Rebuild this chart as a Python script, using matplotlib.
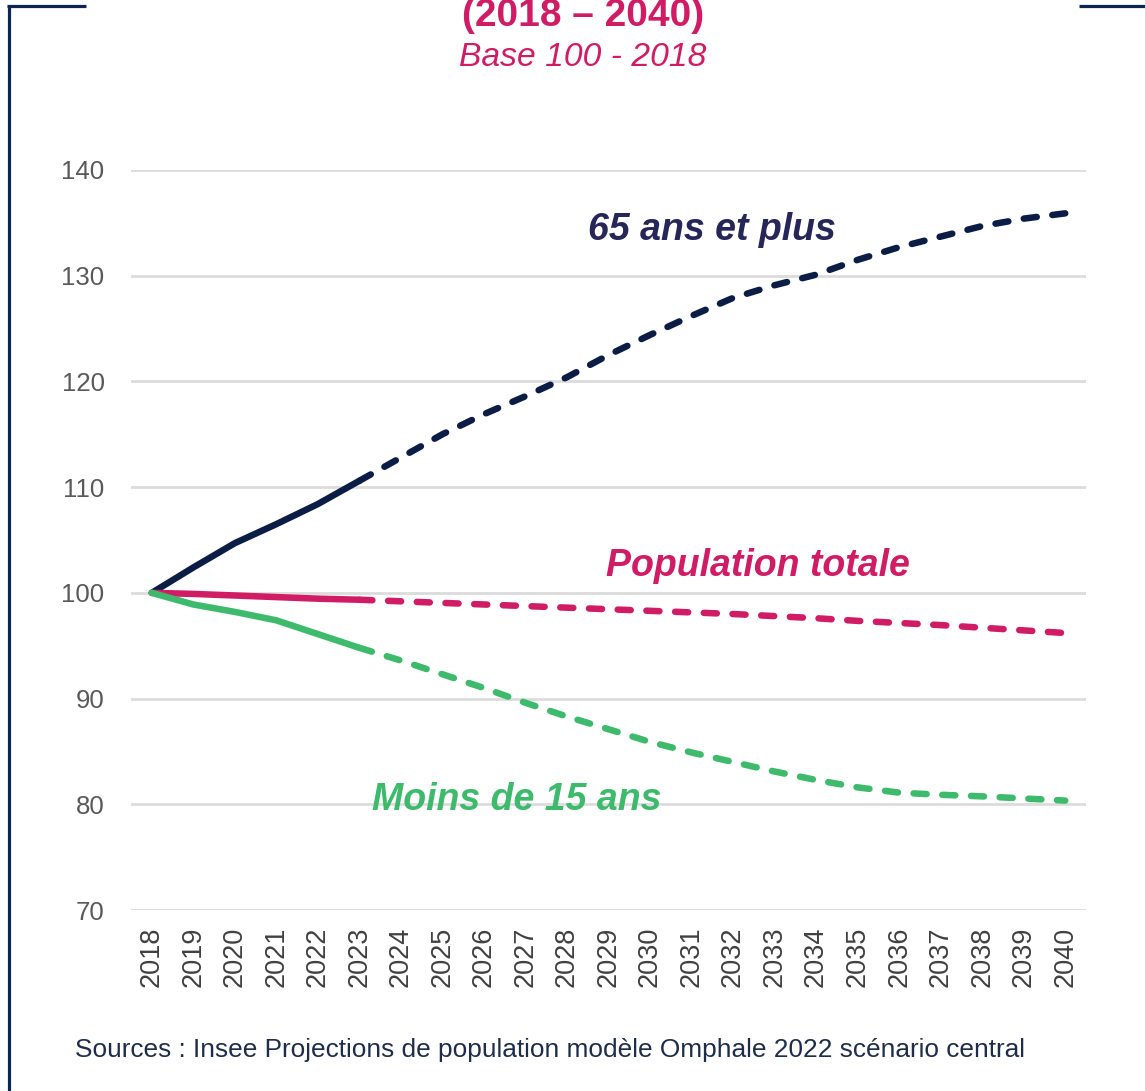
import matplotlib
matplotlib.use("Agg")
import matplotlib.pyplot as plt
from matplotlib.lines import Line2D

plt.rcParams['font.family'] = ['Liberation Sans', 'DejaVu Sans']

years = list(range(2018, 2041))
year_labels = [str(y) for y in years]

seniors = [100, 102.4, 104.7, 106.5, 108.4, 110.6, 112.8, 115.0, 116.9, 118.6,
           120.4, 122.5, 124.4, 126.2, 127.9, 129.1, 130.1, 131.5, 132.7, 133.7,
           134.7, 135.4, 135.9]
total = [100, 99.9, 99.75, 99.6, 99.45, 99.35, 99.2, 99.05, 98.9, 98.75,
         98.6, 98.45, 98.3, 98.15, 98.0, 97.8, 97.6, 97.35, 97.15, 96.95,
         96.7, 96.45, 96.2]
youth = [100, 98.9, 98.2, 97.4, 96.1, 94.8, 93.6, 92.3, 91.0, 89.6,
         88.3, 87.1, 85.9, 84.9, 84.0, 83.1, 82.3, 81.6, 81.1, 80.9,
         80.75, 80.55, 80.35]
split_year = 2023

series_names = ["65 ans et plus", "Population totale", "Moins de 15 ans"]
line_colors = ["#0b1d45", "#d01c64", "#3dba6b"]
text_colors = ["#262658", "#d01c64", "#3dba6b"]

fig = plt.figure(figsize=(11.45, 10.91), dpi=100)
ax = fig.add_axes([131/1145, 1 - 910/1091, (1086 - 131)/1145, (910 - 170)/1091])

idx = years.index(split_year)
for vals, col in zip([seniors, total, youth], line_colors):
    ax.plot(years[:idx + 1], vals[:idx + 1], color=col, lw=4.7,
            solid_capstyle='round', solid_joinstyle='round', zorder=3)
    ax.plot(years[idx:], vals[idx:], color=col, lw=4.7, dashes=(2.0, 2.4),
            dash_capstyle='round', zorder=3)

ax.set_xlim(2017.5, 2040.5)
ax.set_ylim(70, 140)
ax.set_yticks(range(70, 141, 10))
ax.set_xticks(years)
ax.set_xticklabels(year_labels, rotation=90)
ax.grid(axis='y', color='#dcdcdc', lw=2.0, zorder=0)
ax.grid(axis='x', visible=False)
for s in ax.spines.values():
    s.set_visible(False)
ax.tick_params(axis='y', length=0, pad=19, labelsize=18.5, labelcolor='#595959')
ax.tick_params(axis='x', length=0, pad=12, labelsize=19.5, labelcolor='#404040')

label_pos = [(2031.5, 134.3), (2032.6, 102.5), (2026.8, 80.4)]
for name, (x, y), col in zip(series_names, label_pos, text_colors):
    ax.text(x, y, name, color=col, fontsize=27, fontweight='bold',
            fontstyle='italic', ha='center', va='center', zorder=4)

fig.text(583/1145, 1 - 26/1091, "(2018 \u2013 2040)", color='#d01c64',
         fontsize=28, fontweight='bold', ha='center', va='baseline')
fig.text(583/1145, 1 - 66/1091, "Base 100 - 2018", color='#d01c64',
         fontsize=24.2, fontstyle='italic', ha='center', va='baseline')
fig.text(75/1145, 1 - 1057/1091,
         "Sources : Insee Projections de population mod\u00e8le Omphale 2022 sc\u00e9nario central",
         color='#1f2d4a', fontsize=18.9, ha='left', va='baseline')

frame_col = '#0d2550'
fig.add_artist(Line2D([8.5/1145, 8.5/1145], [1 - 5/1091, 0], transform=fig.transFigure,
                      color=frame_col, lw=2.3, solid_capstyle='butt'))
fig.add_artist(Line2D([7/1145, 86/1145], [1 - 6/1091, 1 - 6/1091], transform=fig.transFigure,
                      color=frame_col, lw=2.3, solid_capstyle='butt'))
fig.add_artist(Line2D([1079/1145, 1], [1 - 6/1091, 1 - 6/1091], transform=fig.transFigure,
                      color=frame_col, lw=2.3, solid_capstyle='butt'))

fig.savefig("out.png", dpi=100)
